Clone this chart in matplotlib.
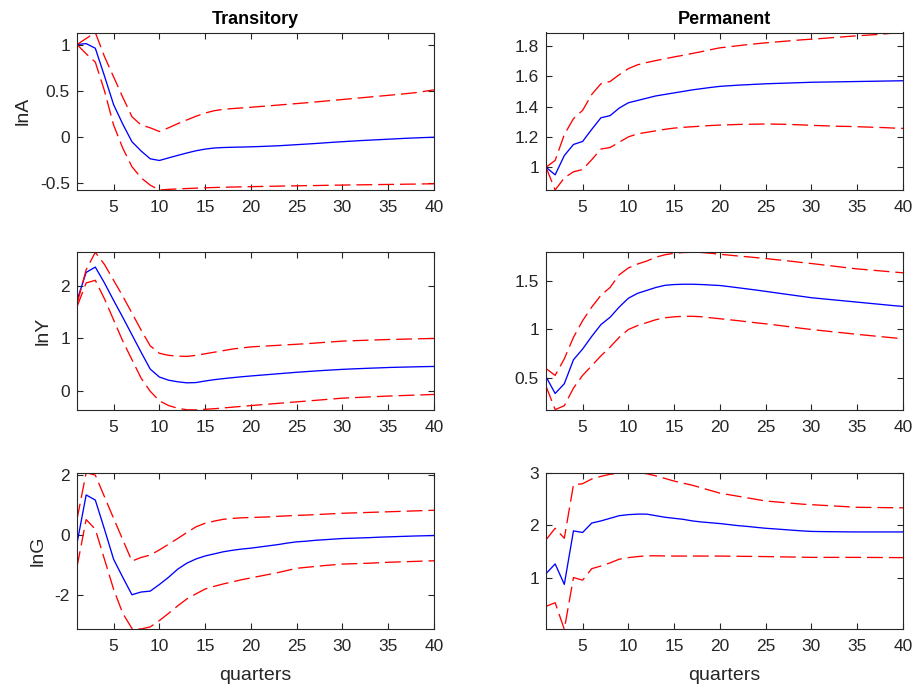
import numpy as np
import matplotlib
matplotlib.use("Agg")
import matplotlib.pyplot as plt

plt.rcParams['font.family'] = ['Liberation Sans', 'DejaVu Sans']

quarters = list(range(1, 41))

# ---- lnA, transitory ----
lnA_T_mid = [1.0, 1.01, 0.96, 0.66, 0.35, 0.14, -0.05, -0.15, -0.235, -0.253,
             -0.225, -0.198, -0.172, -0.148, -0.13, -0.118, -0.113, -0.11, -0.108, -0.105,
             -0.102, -0.098, -0.094, -0.088, -0.082, -0.076, -0.07, -0.063, -0.056, -0.05,
             -0.044, -0.038, -0.033, -0.028, -0.023, -0.018, -0.013, -0.009, -0.005, -0.002]
lnA_T_hi = [1.0, 1.065, 1.13, 0.87, 0.65, 0.43, 0.22, 0.13, 0.1, 0.06,
            0.1, 0.145, 0.185, 0.225, 0.26, 0.285, 0.3, 0.308, 0.315, 0.322,
            0.33, 0.338, 0.346, 0.354, 0.362, 0.37, 0.379, 0.388, 0.397, 0.406,
            0.415, 0.424, 0.433, 0.442, 0.451, 0.46, 0.47, 0.48, 0.495, 0.51]
lnA_T_lo = [1.0, 0.9, 0.81, 0.5, 0.13, -0.12, -0.32, -0.44, -0.52, -0.572,
            -0.565, -0.56, -0.556, -0.552, -0.548, -0.545, -0.542, -0.54, -0.538, -0.536,
            -0.534, -0.532, -0.53, -0.528, -0.527, -0.525, -0.524, -0.522, -0.52, -0.519,
            -0.517, -0.516, -0.515, -0.513, -0.512, -0.511, -0.509, -0.508, -0.506, -0.505]

# ---- lnA, permanent ----
lnA_P_mid = [1.0, 0.95, 1.077, 1.15, 1.17, 1.25, 1.326, 1.34, 1.39, 1.425,
             1.44, 1.455, 1.47, 1.48, 1.49, 1.5, 1.51, 1.518, 1.526, 1.533,
             1.537, 1.541, 1.544, 1.547, 1.55, 1.552, 1.554, 1.556, 1.558, 1.56,
             1.561, 1.562, 1.563, 1.564, 1.565, 1.566, 1.567, 1.568, 1.569, 1.57]
lnA_P_hi = [1.0, 1.045, 1.215, 1.32, 1.375, 1.48, 1.55, 1.565, 1.61, 1.65,
            1.675, 1.69, 1.703, 1.715, 1.727, 1.738, 1.75, 1.762, 1.775, 1.787,
            1.794, 1.801, 1.808, 1.814, 1.82, 1.825, 1.83, 1.835, 1.84, 1.844,
            1.848, 1.853, 1.857, 1.862, 1.866, 1.87, 1.874, 1.879, 1.884, 1.888]
lnA_P_lo = [1.0, 0.85, 0.93, 0.97, 0.985, 1.05, 1.12, 1.13, 1.165, 1.2,
            1.22, 1.23, 1.24, 1.25, 1.258, 1.263, 1.267, 1.271, 1.275, 1.278,
            1.28, 1.282, 1.283, 1.284, 1.285, 1.284, 1.283, 1.281, 1.279, 1.276,
            1.274, 1.272, 1.27, 1.269, 1.267, 1.265, 1.263, 1.261, 1.258, 1.256]

# ---- lnY, transitory ----
lnY_T_mid = [1.72, 2.25, 2.35, 2.05, 1.72, 1.4, 1.07, 0.74, 0.42, 0.27,
             0.21, 0.18, 0.16, 0.165, 0.195, 0.22, 0.24, 0.258, 0.275, 0.29,
             0.304, 0.318, 0.332, 0.346, 0.36, 0.372, 0.384, 0.395, 0.405, 0.415,
             0.423, 0.43, 0.437, 0.443, 0.45, 0.455, 0.459, 0.463, 0.467, 0.47]
lnY_T_hi = [1.65, 2.3, 2.63, 2.4, 2.1, 1.8, 1.48, 1.16, 0.86, 0.72,
            0.68, 0.665, 0.66, 0.68, 0.71, 0.74, 0.77, 0.8, 0.82, 0.84,
            0.85, 0.86, 0.87, 0.88, 0.89, 0.9, 0.912, 0.925, 0.937, 0.95,
            0.956, 0.962, 0.968, 0.974, 0.98, 0.984, 0.988, 0.992, 0.996, 1.0]
lnY_T_lo = [1.6, 2.05, 2.1, 1.75, 1.35, 0.95, 0.6, 0.25, 0.0, -0.18,
            -0.27, -0.32, -0.35, -0.352, -0.34, -0.33, -0.315, -0.3, -0.285, -0.27,
            -0.256, -0.242, -0.228, -0.214, -0.2, -0.186, -0.172, -0.158, -0.144, -0.13,
            -0.122, -0.114, -0.106, -0.098, -0.09, -0.084, -0.078, -0.072, -0.066, -0.06]

# ---- lnY, permanent ----
lnY_P_mid = [0.517, 0.345, 0.445, 0.69, 0.8, 0.93, 1.05, 1.125, 1.23, 1.32,
             1.37, 1.4, 1.43, 1.452, 1.46, 1.463, 1.463, 1.46, 1.455, 1.45,
             1.439, 1.427, 1.415, 1.403, 1.39, 1.377, 1.364, 1.351, 1.338, 1.325,
             1.316, 1.307, 1.298, 1.289, 1.28, 1.271, 1.262, 1.253, 1.244, 1.236]
lnY_P_hi = [0.6, 0.53, 0.7, 0.92, 1.09, 1.23, 1.35, 1.43, 1.56, 1.63,
            1.67, 1.70, 1.74, 1.765, 1.78, 1.788, 1.79, 1.788, 1.78, 1.77,
            1.761, 1.752, 1.744, 1.735, 1.726, 1.716, 1.706, 1.696, 1.685, 1.675,
            1.664, 1.653, 1.642, 1.631, 1.62, 1.612, 1.604, 1.596, 1.588, 1.58]
lnY_P_lo = [0.42, 0.18, 0.22, 0.4, 0.53, 0.63, 0.73, 0.82, 0.92, 1.0,
            1.04, 1.07, 1.1, 1.12, 1.13, 1.135, 1.135, 1.13, 1.12, 1.11,
            1.1, 1.09, 1.079, 1.068, 1.058, 1.047, 1.035, 1.023, 1.011, 1.0,
            0.99, 0.98, 0.97, 0.96, 0.95, 0.941, 0.932, 0.923, 0.914, 0.905]

# ---- lnG, transitory ----
lnG_T_mid = [-0.27, 1.34, 1.17, 0.2, -0.8, -1.4, -1.98, -1.89, -1.86, -1.64,
             -1.4, -1.13, -0.93, -0.79, -0.69, -0.62, -0.55, -0.5, -0.46, -0.43,
             -0.39, -0.35, -0.31, -0.26, -0.22, -0.2, -0.17, -0.15, -0.13, -0.11,
             -0.1, -0.09, -0.08, -0.065, -0.055, -0.045, -0.035, -0.025, -0.018, -0.01]
lnG_T_hi = [0.53, 2.08, 2.0, 1.28, 0.56, -0.15, -0.86, -0.74, -0.66, -0.49,
            -0.3, -0.11, 0.09, 0.28, 0.4, 0.47, 0.53, 0.56, 0.58, 0.59,
            0.6, 0.61, 0.63, 0.645, 0.66, 0.67, 0.685, 0.7, 0.715, 0.73,
            0.74, 0.75, 0.76, 0.77, 0.78, 0.79, 0.80, 0.81, 0.82, 0.83]
lnG_T_lo = [-1.05, 0.52, 0.2, -0.8, -1.8, -2.6, -3.1, -3.12, -3.05, -2.84,
            -2.6, -2.35, -2.12, -1.95, -1.79, -1.7, -1.62, -1.55, -1.48, -1.42,
            -1.36, -1.3, -1.24, -1.17, -1.1, -1.07, -1.04, -1.01, -0.985, -0.96,
            -0.95, -0.94, -0.93, -0.915, -0.9, -0.89, -0.88, -0.87, -0.86, -0.85]

# ---- lnG, permanent ----
lnG_P_mid = [1.075, 1.26, 0.87, 1.89, 1.86, 2.04, 2.08, 2.13, 2.18, 2.2,
             2.21, 2.21, 2.18, 2.15, 2.13, 2.11, 2.08, 2.06, 2.045, 2.03,
             2.01, 1.99, 1.975, 1.957, 1.94, 1.928, 1.915, 1.902, 1.89, 1.88,
             1.877, 1.875, 1.873, 1.871, 1.87, 1.87, 1.87, 1.87, 1.87, 1.87]
lnG_P_hi = [1.72, 1.94, 1.75, 2.77, 2.79, 2.88, 2.93, 2.97, 2.99, 3.0,
            3.0, 2.98, 2.94, 2.89, 2.84, 2.8, 2.76, 2.71, 2.66, 2.61,
            2.58, 2.55, 2.52, 2.49, 2.46, 2.445, 2.43, 2.415, 2.4, 2.39,
            2.38, 2.37, 2.36, 2.35, 2.34, 2.338, 2.336, 2.334, 2.332, 2.33]
lnG_P_lo = [0.45, 0.52, 0.013, 1.0, 0.95, 1.17, 1.22, 1.28, 1.35, 1.38,
            1.4, 1.415, 1.415, 1.412, 1.41, 1.41, 1.41, 1.41, 1.41, 1.41,
            1.408, 1.406, 1.404, 1.402, 1.4, 1.397, 1.394, 1.391, 1.388, 1.385,
            1.385, 1.385, 1.385, 1.385, 1.385, 1.384, 1.383, 1.382, 1.381, 1.38]

ylabels = ["lnA", "lnY", "lnG"]
col_titles = ["Transitory", "Permanent"]
panels = [
    [(lnA_T_mid, lnA_T_lo, lnA_T_hi), (lnA_P_mid, lnA_P_lo, lnA_P_hi)],
    [(lnY_T_mid, lnY_T_lo, lnY_T_hi), (lnY_P_mid, lnY_P_lo, lnY_P_hi)],
    [(lnG_T_mid, lnG_T_lo, lnG_T_hi), (lnG_P_mid, lnG_P_lo, lnG_P_hi)],
]
yticks = [
    [([-0.5, 0, 0.5, 1], ["-0.5", "0", "0.5", "1"]), ([1, 1.2, 1.4, 1.6, 1.8], ["1", "1.2", "1.4", "1.6", "1.8"])],
    [([0, 1, 2], ["0", "1", "2"]), ([0.5, 1, 1.5], ["0.5", "1", "1.5"])],
    [([-2, 0, 2], ["-2", "0", "2"]), ([1, 2, 3], ["1", "2", "3"])],
]
ylims = [
    [(-0.572, 1.13), (0.85, 1.888)],
    [(-0.354, 2.63), (0.176, 1.79)],
    [(-3.13, 2.08), (0.013, 3.0)],
]

W, H = 917, 690
fig = plt.figure(figsize=(W / 100, H / 100), dpi=100)

col_x = [77, 546]
col_w = 357
row_top = [32.5, 252.3, 472.7]
row_bot = [190, 410, 629.3]

axcol = "#262626"
for r in range(3):
    for c in range(2):
        x0 = col_x[c] / W
        y0 = 1 - row_bot[r] / H
        h = (row_bot[r] - row_top[r]) / H
        ax = fig.add_axes([x0, y0, col_w / W, h])
        mid, lo, hi = panels[r][c]
        ax.plot(quarters, mid, color="#0000ff", lw=0.95)
        ax.plot(quarters, lo, color="#ff0000", lw=0.95, dashes=(12, 4.5))
        ax.plot(quarters, hi, color="#ff0000", lw=0.95, dashes=(12, 4.5))
        ax.set_xlim(1, 40)
        ax.set_ylim(*ylims[r][c])
        ax.set_xticks([5, 10, 15, 20, 25, 30, 35, 40])
        ax.set_yticks(yticks[r][c][0])
        ax.set_yticklabels(yticks[r][c][1])
        ax.tick_params(direction="in", top=True, right=True, length=4, width=0.8,
                       labelsize=12.5, colors=axcol)
        ax.tick_params(axis="x", pad=7)
        ax.tick_params(axis="y", pad=5)
        for s in ax.spines.values():
            s.set_color(axcol)
            s.set_linewidth(0.8)
        if c == 0:
            ax.set_ylabel(ylabels[r], fontsize=14, color=axcol, labelpad=6)
        if r == 0:
            ax.set_title(col_titles[c], fontsize=13, fontweight="bold", color="black", pad=6)
        if r == 2:
            ax.set_xlabel("quarters", fontsize=14, color=axcol, labelpad=9)

fig.savefig("out.png", dpi=100)
